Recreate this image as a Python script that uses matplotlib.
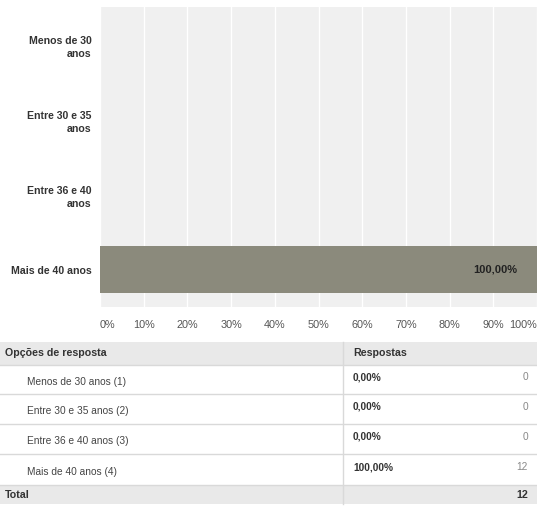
import matplotlib
matplotlib.use("Agg")
import matplotlib.pyplot as plt
from matplotlib.patches import Rectangle

categories = ["Menos de 30\nanos", "Entre 30 e 35\nanos", "Entre 36 e 40\nanos", "Mais de 40 anos"]
percent_values = [0.0, 0.0, 0.0, 100.0]
tick_values = [0, 10, 20, 30, 40, 50, 60, 70, 80, 90, 100]
tick_labels = [f"{v}%" for v in tick_values]

table_header = ["Opções de resposta", "Respostas"]
table_options = ["Menos de 30 anos (1)", "Entre 30 e 35 anos (2)", "Entre 36 e 40 anos (3)", "Mais de 40 anos (4)"]
table_percents = ["0,00%", "0,00%", "0,00%", "100,00%"]
table_counts = [0, 0, 0, 12]
total_label = "Total"
total_count = 12

W, H = 537, 515
fig = plt.figure(figsize=(W / 100, H / 100), dpi=100)
fig.patch.set_facecolor("white")
plt.rcParams['font.family'] = ['Liberation Sans', 'DejaVu Sans']

def fx(px):
    return px / W

def fy(py):
    return 1 - py / H

# Chart axes
ax = fig.add_axes([fx(100), fy(307), fx(537 - 100), (307 - 7) / H])
ax.set_facecolor("#f0f0f0")
ypos = list(range(len(categories)))
ax.barh(ypos, percent_values, height=0.63, color="#8b8a7c", zorder=3)
ax.set_xlim(0, 100)
ax.set_ylim(len(categories) - 0.5, -0.5)
ax.set_xticks(tick_values)
ax.set_xticklabels(tick_labels)
ax.set_yticks(ypos)
ax.set_yticklabels(categories, fontweight="bold", fontsize=7.6, color="#333333",
                   multialignment="right", linespacing=1.45)
ax.tick_params(axis="x", length=0, pad=9.5, labelsize=7.8, labelcolor="#555555")
ax.tick_params(axis="y", length=0, pad=6)
lbls = ax.get_xticklabels()
lbls[0].set_horizontalalignment("left")
lbls[-1].set_horizontalalignment("right")
ax.grid(axis="x", color="white", linewidth=1, zorder=1)
ax.set_axisbelow(True)
for s in ax.spines.values():
    s.set_visible(False)
for i, v in enumerate(percent_values):
    if v > 0:
        ax.annotate(f"{v:.2f}%".replace(".", ","), xy=(v, i), xytext=(-14, 0),
                    textcoords="offset points", ha="right", va="center",
                    fontsize=8, fontweight="bold", color="#222222", zorder=4)

# Table axes (pixel coordinates)
tax = fig.add_axes([0, 0, 1, 1])
tax.set_xlim(0, W)
tax.set_ylim(H, 0)
tax.axis("off")

row_edges = [342, 365, 394, 424, 454, 485, 504]
divider_x = 343
line_col = "#d9d9d9"
head_bg = "#e9e9e9"

tax.add_patch(Rectangle((0, row_edges[0]), W, row_edges[1] - row_edges[0], color=head_bg, lw=0))
tax.add_patch(Rectangle((0, row_edges[-2]), W, row_edges[-1] - row_edges[-2], color=head_bg, lw=0))
for y in row_edges[1:-1]:
    tax.plot([0, W], [y, y], color=line_col, lw=1)
tax.plot([divider_x, divider_x], [row_edges[0], row_edges[-1]], color=line_col, lw=1)

def mid(i):
    return (row_edges[i] + row_edges[i + 1]) / 2

tax.text(5, mid(0), table_header[0], fontsize=7.7, fontweight="bold", color="#333333", va="center")
tax.text(353, mid(0), table_header[1], fontsize=7.7, fontweight="bold", color="#333333", va="center")
for i, (opt, pct, cnt) in enumerate(zip(table_options, table_percents, table_counts)):
    r = i + 1
    tax.text(27, mid(r) + 2.5, opt, fontsize=7.3, color="#444444", va="center")
    tax.text(353, mid(r) - 2.5, pct, fontsize=7.3, fontweight="bold", color="#333333", va="center")
    tax.text(528, mid(r) - 2.5, str(cnt), fontsize=7.3, color="#888888", va="center", ha="right")
tax.text(5, mid(5), total_label, fontsize=7.7, fontweight="bold", color="#333333", va="center")
tax.text(528, mid(5), str(total_count), fontsize=7.7, fontweight="bold", color="#333333", va="center", ha="right")

fig.savefig("out.png", dpi=100)
